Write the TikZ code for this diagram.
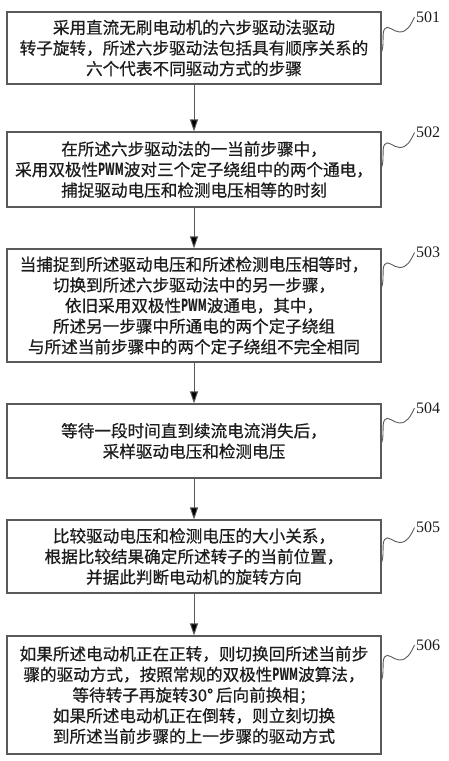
\documentclass[tikz,border=0pt]{standalone}
\usepackage{fontspec}
\setmainfont{Noto Sans CJK SC}[UprightFeatures={FakeBold=0.6}]
\newfontfamily\numfont{Liberation Serif}
\usepackage{graphicx}
\usepackage{xcolor}
\usetikzlibrary{arrows.meta, positioning, calc}
\definecolor{boxgray}{RGB}{90,90,90}
\definecolor{textblack}{RGB}{28,28,28}
\newcommand{\pwm}{\scalebox{0.62}[1]{\bfseries PWM}}

\tikzset{
  stepbox/.style={draw=boxgray, line width=1.1pt, minimum width=374pt, inner sep=0pt,
    align=center, text=textblack, font=\fontsize{16.6pt}{20.6pt}\selectfont},
  flow/.style={draw=boxgray, line width=0.9pt, -{Triangle[width=8pt,length=12pt,fill=black]}},
  squig/.style={draw=boxgray, line width=0.9pt},
  reflabel/.style={font=\numfont\fontsize{16pt}{16pt}\selectfont, anchor=west, inner sep=1pt, text=textblack}
}

\begin{document}
\begin{tikzpicture}[x=1pt, y=1pt]
  \useasboundingbox (0,0) rectangle (449,-761);
  % steps of the flow
  \node[stepbox, minimum height=72pt] (b1) at (194,-48)
    {采用直流无刷电动机的六步驱动法驱动\\转子旋转，所述六步驱动法包括具有顺序关系的\\六个代表不同驱动方式的步骤};
  \node[stepbox, minimum height=75pt] (b2) at (194,-169.5)
    {在所述六步驱动法的一当前步骤中，\\采用双极性\pwm 波对三个定子绕组中的两个通电，\\捕捉驱动电压和检测电压相等的时刻};
  \node[stepbox, minimum height=113pt] (b3) at (194,-305.5)
    {当捕捉到所述驱动电压和所述检测电压相等时，\\切换到所述六步驱动法中的另一步骤，\\依旧采用双极性\pwm 波通电，其中，\\所述另一步骤中所通电的两个定子绕组\\与所述当前步骤中的两个定子绕组不完全相同};
  \node[stepbox, minimum height=74pt] (b4) at (194,-441)
    {等待一段时间直到续流电流消失后，\\采样驱动电压和检测电压};
  \node[stepbox, minimum height=73pt] (b5) at (194,-556.5)
    {比较驱动电压和检测电压的大小关系，\\根据比较结果确定所述转子的当前位置，\\并据此判断电动机的旋转方向};
  \node[stepbox, minimum height=118pt] (b6) at (194,-695)
    {如果所述电动机正在正转，则切换回所述当前步\\骤的驱动方式，按照常规的双极性\pwm 波算法，\\等待转子再旋转30°\,后向前换相；\\如果所述电动机正在倒转，则立刻切换\\到所述当前步骤的上一步骤的驱动方式};
  % arrows
  \foreach \a/\b in {1/2, 2/3, 3/4, 4/5, 5/6} {
    \draw[flow] (b\a.south) -- (b\b.north);
  }
  % reference numbers with squiggles
  \foreach \n/\dy in {1/-4, 2/2, 3/18, 4/-2, 5/-6, 6/15} {
    \coordinate (s\n) at ([yshift=\dy pt]b\n.east);
    \draw[squig] (s\n) .. controls +(3,8) and +(-3,-5) .. ++(3,23)
      .. controls +(3,5) and +(-6,0) .. ++(15,-3)
      .. controls +(8,0) and +(-4,-8) .. ++(15,15) node[reflabel] (l\n) {50\n};
  }
\end{tikzpicture}
\end{document}
